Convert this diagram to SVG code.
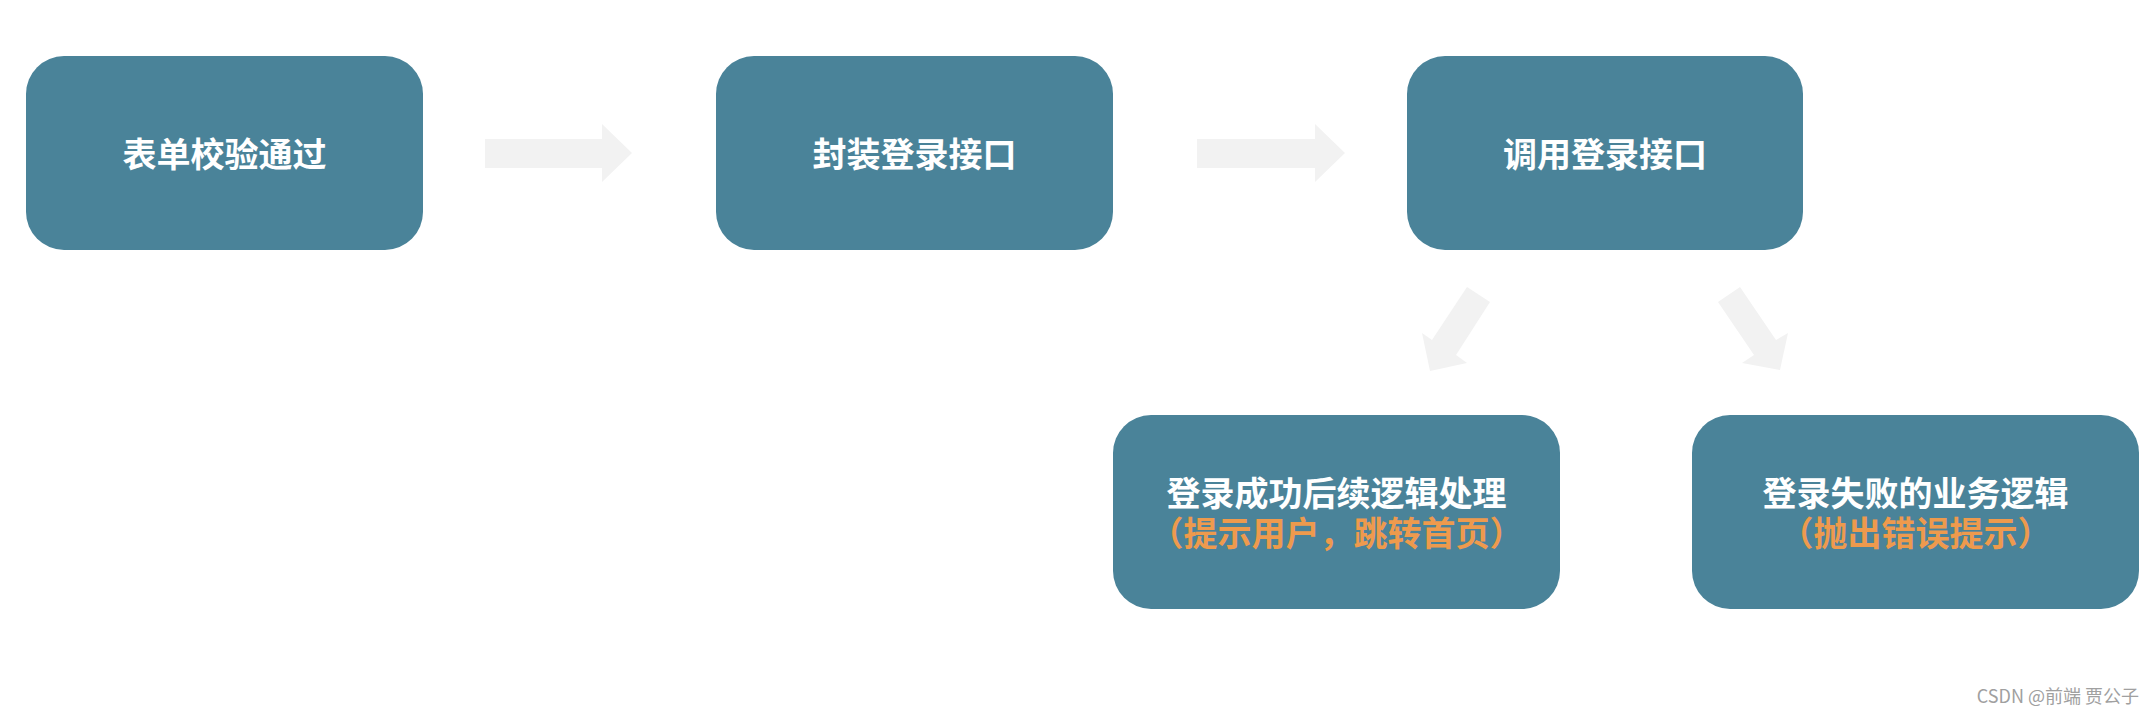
<svg xmlns="http://www.w3.org/2000/svg" width="2154" height="714" viewBox="0 0 2154 714">
<style>
.box{fill:#4A8399;}
.t{font-family:"Noto Sans CJK SC","Noto Sans",sans-serif;font-size:34px;font-weight:700;fill:#FFFFFF;text-anchor:middle;dominant-baseline:central;}
.o{fill:#EE9A4D;}
.arr{fill:#F2F2F2;}
.wm{font-family:"Noto Sans CJK SC","Liberation Sans",sans-serif;font-size:18px;fill:#A0A0A0;text-anchor:end;dominant-baseline:central;}
</style>
<rect width="2154" height="714" fill="#FFFFFF"/>
<g id="connectors">
<polygon class="arr" points="485,139 602,139 602,124 632,153 602,182 602,168 485,168"/>
<polygon class="arr" points="1197,139 1315,139 1315,124 1345,153 1315,182 1315,168 1197,168"/>
<polygon class="arr" points="1467,287 1490,302 1456,355 1467,363 1430,371 1422,333 1432,340"/>
<polygon class="arr" points="1740,287 1718,302 1754,355 1742,363 1780,370 1788,333 1776,340"/>
</g>
<g id="node1">
<rect class="box" x="26" y="56" width="397" height="194" rx="38" ry="38"/>
<text class="t" x="224.5" y="152">表单校验通过</text>
</g>
<g id="node2">
<rect class="box" x="716" y="56" width="397" height="194" rx="38" ry="38"/>
<text class="t" x="914.5" y="152">封装登录接口</text>
</g>
<g id="node3">
<rect class="box" x="1407" y="56" width="396" height="194" rx="38" ry="38"/>
<text class="t" x="1605" y="152">调用登录接口</text>
</g>
<g id="node4">
<rect class="box" x="1113" y="415" width="447" height="194" rx="38" ry="38"/>
<text class="t" x="1336.5" y="491">登录成功后续逻辑处理</text>
<text class="t o" x="1336.5" y="531">（提示用户，跳转首页）</text>
</g>
<g id="node5">
<rect class="box" x="1692" y="415" width="447" height="194" rx="38" ry="38"/>
<text class="t" x="1915.5" y="491">登录失败的业务逻辑</text>
<text class="t o" x="1915.5" y="531">（抛出错误提示）</text>
</g>
<text class="wm" x="2139" y="695">CSDN @前端 贾公子</text>
</svg>
